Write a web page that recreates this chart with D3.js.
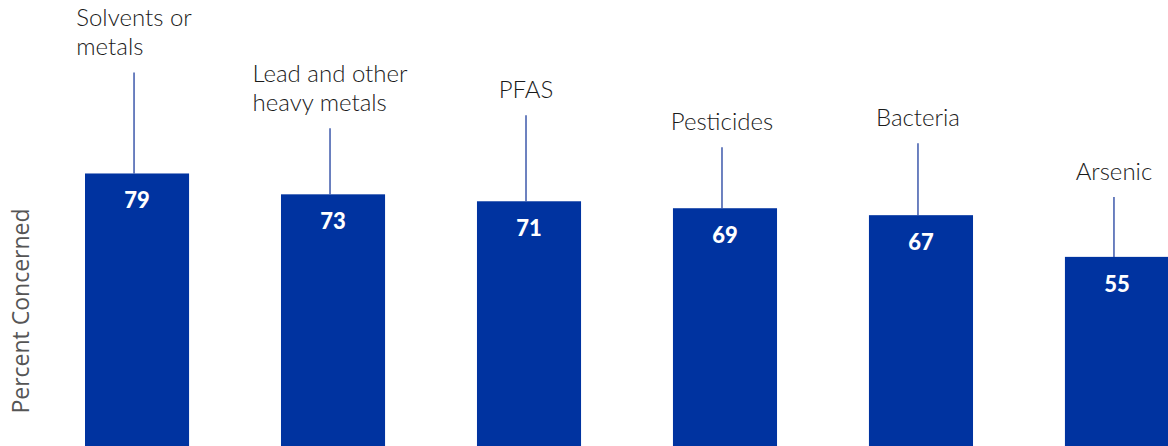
<!DOCTYPE html>
<html>
<head>
<meta charset="utf-8">
<script src="https://cdn.jsdelivr.net/npm/d3@7"></script>
<style>
  body { margin: 0; background: #fff; }
  svg { display: block; }
</style>
</head>
<body>
<div id="chart"></div>
<script>
// chart data

var categories = ["Solvents or metals", "Lead and other heavy metals", "PFAS", "Pesticides", "Bacteria", "Arsenic"];
var values = [79, 73, 71, 69, 67, 55];
var labelLines = [["Solvents or", "metals"], ["Lead and other", "heavy metals"], ["PFAS"], ["Pesticides"], ["Bacteria"], ["Arsenic"]];
var yTitle = "Percent Concerned";

// annotation leader lengths (px above bar top), as placed in the original
var leaderLength = [101, 66, 86, 61, 72, 60];

var svgWidth = 1168;
var svgHeight = 446;

var svg = d3.select("#chart")
  .append("svg")
  .attr("width", svgWidth)
  .attr("height", svgHeight);

var xScale = d3.scaleBand()
  .domain(categories)
  .range([39, 1215])
  .paddingInner(0.469)
  .paddingOuter(0.2347);

var yScale = d3.scaleLinear()
  .domain([0, 100])
  .range([448, 100.5]);

var barColor = "#0033a0";

var groups = svg.selectAll(".bar")
  .data(categories)
  .enter()
  .append("g")
  .attr("class", "bar");

groups.append("rect")
  .attr("x", d => xScale(d))
  .attr("y", (d, i) => yScale(values[i]))
  .attr("width", xScale.bandwidth())
  .attr("height", (d, i) => yScale(0) - yScale(values[i]))
  .attr("fill", barColor);

// value labels inside bars
groups.append("text")
  .attr("x", d => xScale(d) + xScale.bandwidth() / 2)
  .attr("y", (d, i) => yScale(values[i]) + 35)
  .attr("text-anchor", "middle")
  .attr("font-family", "Lato, sans-serif")
  .attr("font-weight", "900")
  .attr("font-size", "22px")
  .attr("fill", "#fff")
  .text((d, i) => values[i]);

// leader lines
groups.append("line")
  .attr("x1", d => xScale(d) + xScale.bandwidth() / 2 - 3)
  .attr("x2", d => xScale(d) + xScale.bandwidth() / 2 - 3)
  .attr("y1", (d, i) => yScale(values[i]))
  .attr("y2", (d, i) => yScale(values[i]) - leaderLength[i])
  .attr("stroke", "#1f3f9e")
  .attr("stroke-width", 1.3);

// category labels above leaders
groups.each(function(d, i) {
  var g = d3.select(this);
  var cx = xScale(d) + xScale.bandwidth() / 2 - 3;
  var top = yScale(values[i]) - leaderLength[i];
  var lines = labelLines[i];
  var t = g.append("text")
    .attr("font-family", "Lato, sans-serif")
    .attr("font-weight", "300")
    .attr("font-size", "24px")
    .attr("fill", "#1a1a1a");
  lines.forEach(function(line, j) {
    t.append("tspan")
      .attr("y", top - 17 - (lines.length - 1 - j) * 29)
      .text(line);
  });
  var maxW = 0;
  t.selectAll("tspan").each(function() {
    maxW = Math.max(maxW, this.getComputedTextLength());
  });
  t.selectAll("tspan").attr("x", cx - maxW / 2);
});

// y axis title
svg.append("text")
  .attr("transform", "translate(29," + 311 + ") rotate(-90)")
  .attr("text-anchor", "middle")
  .attr("font-family", "'Open Sans', sans-serif")
  .attr("font-size", "23px")
  .attr("fill", "#555")
  .text(yTitle);
</script>
</body>
</html>
